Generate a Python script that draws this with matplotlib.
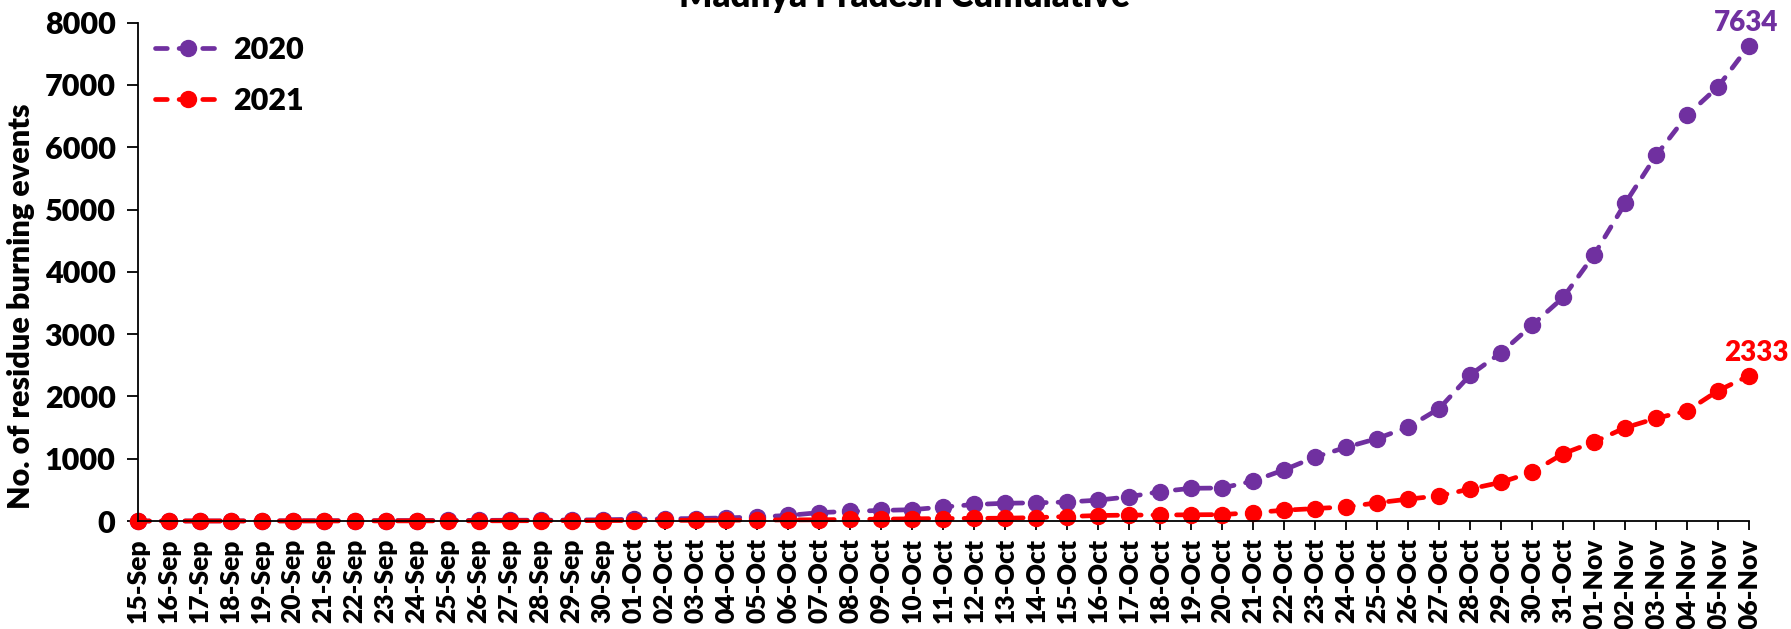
import matplotlib
matplotlib.use("Agg")
import matplotlib.pyplot as plt

plt.rcParams['font.family'] = ['Lato', 'DejaVu Sans']
plt.rcParams['font.weight'] = 'heavy'

dates = ['15-Sep', '16-Sep', '17-Sep', '18-Sep', '19-Sep', '20-Sep', '21-Sep', '22-Sep',
         '23-Sep', '24-Sep', '25-Sep', '26-Sep', '27-Sep', '28-Sep', '29-Sep', '30-Sep',
         '01-Oct', '02-Oct', '03-Oct', '04-Oct', '05-Oct', '06-Oct', '07-Oct', '08-Oct',
         '09-Oct', '10-Oct', '11-Oct', '12-Oct', '13-Oct', '14-Oct', '15-Oct', '16-Oct',
         '17-Oct', '18-Oct', '19-Oct', '20-Oct', '21-Oct', '22-Oct', '23-Oct', '24-Oct',
         '25-Oct', '26-Oct', '27-Oct', '28-Oct', '29-Oct', '30-Oct', '31-Oct',
         '01-Nov', '02-Nov', '03-Nov', '04-Nov', '05-Nov', '06-Nov']

y2020 = [0, 0, 1, 2, 3, 4, 5, 6, 7, 8, 9, 10, 12, 14, 16, 20,
         28, 35, 40, 50, 65, 90, 135, 155, 170, 182, 225, 265, 285, 292,
         305, 335, 390, 472, 525, 530, 643, 822, 1027, 1184, 1324, 1508,
         1805, 2346, 2703, 3146, 3589, 4275, 5100, 5870, 6514, 6972, 7634]

y2021 = [0, 0, 0, 0, 0, 1, 1, 1, 2, 2, 3, 3, 4, 5, 6, 7,
         8, 10, 11, 13, 15, 18, 20, 25, 30, 35, 40, 42, 45, 55,
         72, 88, 95, 96, 100, 103, 135, 173, 200, 227, 292, 351,
         405, 514, 622, 784, 1081, 1270, 1497, 1649, 1768, 2092, 2333]

purple = '#7030A0'
red = '#FF0000'
fs = 22

fig = plt.figure(figsize=(17.91, 6.29), dpi=100)
ax = fig.add_axes([0.0769, 0.1717, 0.8997, 0.7922])

x = list(range(len(dates)))
for ys, col, lab in [(y2020, purple, '2020'), (y2021, red, '2021')]:
    ln, = ax.plot(x, ys, color=col, lw=3.4, marker='o', ms=11.5, label=lab,
                  clip_on=False, dash_capstyle='round')
    ln.set_dashes((2.5, 2.5))

ax.annotate(str(y2020[-1]), (x[-1], y2020[-1]), xytext=(-2, 7), textcoords='offset points',
            ha='center', va='bottom', color=purple, fontsize=20)
ax.annotate(str(y2021[-1]), (x[-1], y2021[-1]), xytext=(5, 7), textcoords='offset points',
            ha='center', va='bottom', color=red, fontsize=20)

ax.set_xlim(0, len(dates) - 1)
ax.set_ylim(0, 8000)
ax.set_yticks(range(0, 8001, 1000))
ax.set_xticks(x)
ax.set_xticklabels(dates, rotation=90, fontsize=19)
ax.tick_params(axis='y', labelsize=fs, length=8, width=1.3, pad=8)
ax.tick_params(axis='x', length=6.5, width=1.3, pad=6)
for s in ['top', 'right']:
    ax.spines[s].set_visible(False)
for s in ['left', 'bottom']:
    ax.spines[s].set_linewidth(1.3)

ax.set_ylabel('No. of residue burning events', fontsize=22, fontweight='heavy')
ax.yaxis.set_label_coords(-0.064, 0.43)

ax.legend(loc='upper left', bbox_to_anchor=(0.011, 0.974), frameon=False, fontsize=fs,
          borderpad=0, borderaxespad=0, handlelength=2.1, handletextpad=0.45,
          labelspacing=0.76)

fig.text(0.505, 1 - 7 / 629, 'Madhya Pradesh Cumulative', ha='center', va='baseline',
         fontsize=25)

fig.savefig('out.png', dpi=100)
